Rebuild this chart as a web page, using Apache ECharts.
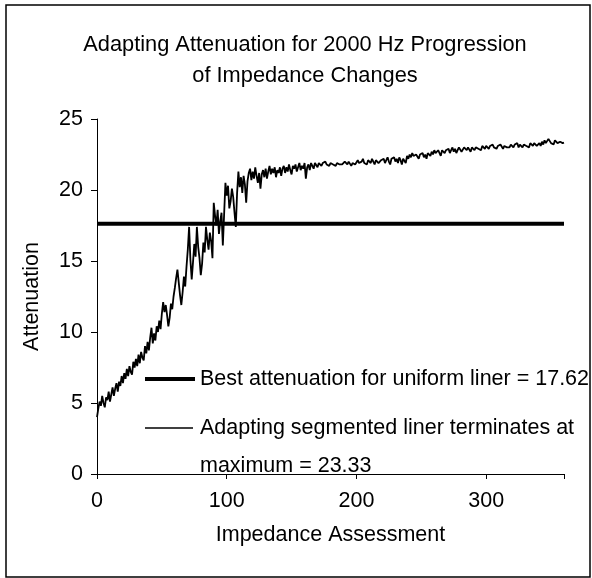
<!DOCTYPE html>
<html>
<head>
<meta charset="utf-8">
<script src="https://cdn.jsdelivr.net/npm/echarts@6/dist/echarts.min.js"></script>
<style>
html,body{margin:0;padding:0;background:#fff;}
#chart{width:592px;height:578px;}
</style>
</head>
<body>
<div id="chart"></div>
<script>
const titleLines = ['Adapting Attenuation for 2000 Hz Progression', 'of Impedance Changes'];
const xAxisName = 'Impedance Assessment';
const yAxisName = 'Attenuation';
const xTicks = [0, 100, 200, 300];
const yTicks = [0, 5, 10, 15, 20, 25];
const uniformName = 'Best attenuation for uniform liner = 17.62';
const adaptName1 = 'Adapting segmented liner terminates at';
const adaptName2 = 'maximum = 23.33';
const uniformValue = 17.62;

const adaptingValues = [
4.0, 4.6, 5.1, 4.8, 5.5, 5.0, 4.7, 5.4, 5.2, 5.8, 5.1, 5.6, 6.1, 5.5, 6.0, 6.4, 5.8, 6.5, 6.2, 6.9,
6.4, 7.1, 6.7, 7.4, 6.9, 7.6, 7.2, 7.0, 7.9, 7.5, 8.1, 7.6, 8.4, 7.8, 8.6, 8.2, 8.0, 9.0, 8.5, 9.3,
8.7, 9.6, 10.3, 9.2, 9.9, 9.4, 10.4, 10.0, 10.8, 10.2, 11.3, 12.1, 11.4, 11.9, 11.2, 10.4, 11.0, 12.0, 11.6, 12.5,
13.1, 13.8, 14.4, 13.5, 12.6, 11.9, 12.8, 13.9, 13.2, 14.6, 15.8, 17.4, 15.1, 13.7, 14.9, 16.2, 15.3, 17.4, 16.0, 15.2,
14.0, 14.8, 16.3, 15.6, 17.4, 16.5, 15.8, 17.0, 16.4, 15.2, 19.1, 18.2, 17.5, 18.6, 16.9, 17.8, 18.4, 16.1, 18.3, 20.5,
19.6, 20.3, 18.7, 19.2, 20.1, 19.5, 18.4, 17.4, 19.8, 21.3, 20.2, 20.9, 19.8, 21.0, 20.4, 19.1, 20.6, 21.2, 21.5, 20.7,
21.3, 20.8, 21.6, 21.0, 20.5, 21.2, 20.1, 21.1, 21.4, 20.9, 21.5, 20.8, 21.3, 21.7, 21.1, 21.5, 21.2, 21.6, 20.9, 21.4,
21.2, 21.6, 21.0, 21.5, 21.7, 21.2, 21.6, 21.3, 21.8, 21.4, 21.1, 21.7, 21.5, 21.8, 21.3, 21.6, 21.9, 21.4, 21.7, 21.5,
21.9, 20.8, 21.6, 21.8, 21.4, 21.9, 21.7, 21.5, 21.9, 21.8, 21.6, 21.9, 22.0, 21.7, 21.9, 21.8, 22.0, 21.8, 21.9, 21.7,
21.9, 22.0, 21.8, 21.9, 21.7, 21.9, 22.0, 21.8, 21.9, 21.8, 21.7, 22.0, 21.9, 21.8, 22.0, 21.9, 21.7, 21.9, 22.0, 21.8,
21.9, 22.1, 21.9, 21.8, 22.0, 22.2, 21.9, 22.0, 21.8, 22.1, 22.0, 21.9, 22.2, 22.0, 21.8, 22.1, 22.2, 21.9, 22.0, 22.1,
22.0, 22.2, 21.9, 22.1, 22.3, 22.0, 21.8, 22.2, 22.1, 22.3, 22.0, 22.2, 21.9, 22.3, 22.1, 21.8, 22.2, 22.3, 21.9, 22.4,
22.2, 22.5, 22.3, 22.6, 22.4, 22.3, 22.5, 22.6, 22.2, 22.5, 22.4, 22.6, 22.3, 22.5, 22.2, 22.6, 22.5, 22.4, 22.7, 22.5,
22.8, 22.6, 22.5, 22.8, 22.7, 22.4, 22.8, 22.9, 22.6, 22.8, 22.7, 22.9, 22.6, 22.8, 23.0, 22.7, 22.9, 22.6, 22.8, 23.0,
22.9, 22.7, 22.8, 23.0, 22.9, 22.8, 23.0, 22.9, 22.7, 23.0, 22.9, 22.8, 23.0, 23.1, 22.9, 23.0, 22.8, 23.1, 23.0, 22.9,
23.1, 23.0, 22.9, 23.1, 23.0, 23.2, 23.0, 23.1, 22.9, 23.1, 23.0, 23.2, 23.1, 22.9, 23.1, 23.2, 23.0, 23.1, 23.0, 23.2,
23.1, 23.0, 23.2, 23.1, 23.3, 23.0, 23.2, 23.1, 23.0, 23.2, 23.3, 23.1, 23.2, 23.0, 23.3, 23.2, 23.1, 23.3, 23.2, 23.1,
23.2, 23.3, 23.1, 23.4, 23.2, 23.5, 23.3, 23.4, 23.6, 23.5, 23.3, 23.4, 23.2, 23.5, 23.4, 23.3, 23.2, 23.4, 23.3, 23.3, 23.33
];
const xMin = 0, xMax = 360;

const FONT = '"Liberation Sans", Arial, sans-serif';
const FS = 21.5;
const chart = echarts.init(document.getElementById('chart'), null, {renderer: 'canvas'});

const adaptData = adaptingValues.map((v, i) => [i, v]);
const uniformData = [[xMin, uniformValue], [xMax, uniformValue]];

chart.setOption({
  backgroundColor: '#ffffff',
  animation: false,
  title: {
    text: titleLines.join('\n'),
    left: 300,
    textAlign: 'center',
    top: 24,
    textStyle: {fontFamily: FONT, fontSize: 21.8, fontWeight: 'normal', color: '#000', lineHeight: 31}
  },
  grid: {left: 97, top: 119, right: 28, bottom: 104, containLabel: false},
  xAxis: {
    type: 'value', min: xMin, max: xMax, interval: 100,
    name: xAxisName, nameLocation: 'middle', nameGap: 50,
    nameTextStyle: {fontFamily: FONT, fontSize: FS, color: '#000'},
    axisLine: {show: true, onZero: false, lineStyle: {color: '#000', width: 1}},
    axisTick: {show: true, inside: false, length: 5, lineStyle: {color: '#000'}},
    axisLabel: {fontFamily: FONT, fontSize: FS, color: '#000', margin: 16,
      formatter: v => xTicks.indexOf(v) >= 0 ? String(v) : ''},
    splitLine: {show: false}
  },
  yAxis: {
    type: 'value', min: 0, max: 25, interval: 5,
    name: yAxisName, nameLocation: 'middle', nameGap: 54,
    nameTextStyle: {fontFamily: FONT, fontSize: FS, color: '#000'},
    axisLine: {show: true, lineStyle: {color: '#000', width: 1}},
    axisTick: {show: true, length: 6, lineStyle: {color: '#000'}},
    axisLabel: {fontFamily: FONT, fontSize: FS, color: '#000', margin: 14,
      formatter: v => yTicks.indexOf(v) >= 0 ? String(v) : ''},
    splitLine: {show: false}
  },
  series: [
    {
      name: uniformName, type: 'line', data: uniformData, symbol: 'none',
      lineStyle: {color: '#000', width: 4}, z: 2
    },
    {
      name: adaptName1, type: 'line', data: adaptData, symbol: 'none',
      lineStyle: {color: '#000', width: 1.8}, z: 3
    }
  ],
  graphic: [
    {type: 'rect', shape: {x: 6, y: 5, width: 584, height: 572}, style: {fill: 'none', stroke: '#000', lineWidth: 1.5}, silent: true},
    {type: 'line', shape: {x1: 145, y1: 379, x2: 195, y2: 379}, style: {stroke: '#000', lineWidth: 4}, z: 10},
    {type: 'text', x: 200, y: 379, style: {text: uniformName, font: FS + 'px ' + FONT, fill: '#000', textVerticalAlign: 'middle'}, z: 10},
    {type: 'line', shape: {x1: 145, y1: 428, x2: 193, y2: 428}, style: {stroke: '#000', lineWidth: 1.5}, z: 10},
    {type: 'text', x: 200, y: 428, style: {text: adaptName1, font: FS + 'px ' + FONT, fill: '#000', textVerticalAlign: 'middle'}, z: 10},
    {type: 'text', x: 200, y: 466, style: {text: adaptName2, font: FS + 'px ' + FONT, fill: '#000', textVerticalAlign: 'middle'}, z: 10}
  ]
});
</script>
</body>
</html>
